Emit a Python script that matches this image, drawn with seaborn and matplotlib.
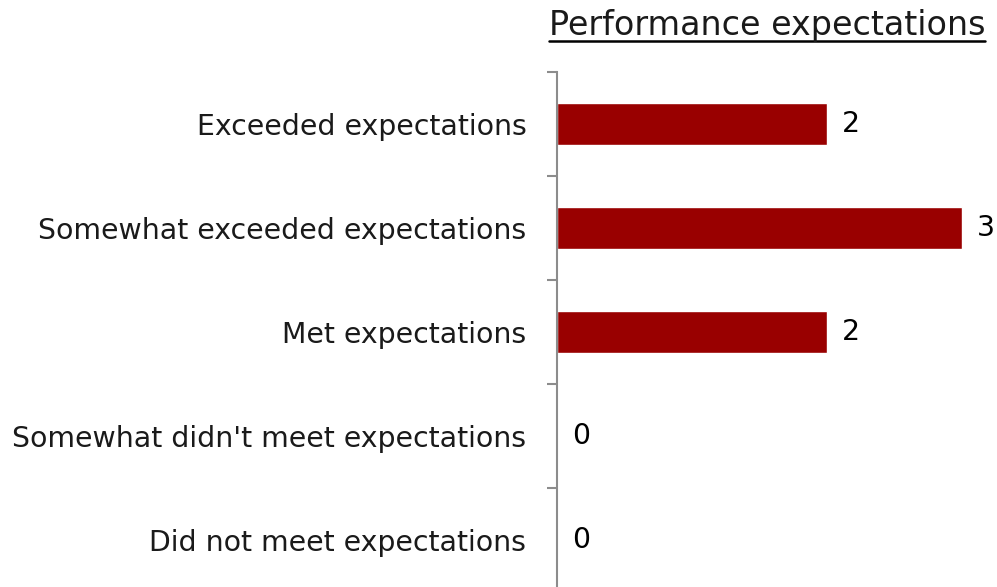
import matplotlib
matplotlib.use("Agg")
import matplotlib.pyplot as plt
import seaborn as sns
from matplotlib.lines import Line2D

# data
categories = ["Exceeded expectations", "Somewhat exceeded expectations",
              "Met expectations", "Somewhat didn't meet expectations",
              "Did not meet expectations"]
counts = [2, 3, 2, 0, 0]
title = "Performance expectations"

sns.set_style("white")
plt.rcParams['font.family'] = ['DejaVu Sans']

fig = plt.figure(figsize=(9.97, 5.87), dpi=100)
ax = fig.add_axes([557 / 997, -5 / 587, 440 / 997, 520 / 587])

sns.barplot(x=counts, y=categories, orient="h", color="#990000",
            width=0.4, saturation=1, ax=ax)

ax.set_xlim(0, 440 / 135)
ax.set_ylim(4.5, -0.5)
ax.set_xlabel("")
ax.set_ylabel("")
ax.set_xticks([])

# category labels at centres, tick marks between categories
ax.set_yticks(range(len(categories)))
ax.set_yticklabels(categories, fontsize=20.4, color="#1a1a1a")
ax.tick_params(axis="y", which="major", length=0, pad=22)
ax.set_yticks([i + 0.5 for i in range(-1, len(categories))], minor=True)
ax.tick_params(axis="y", which="minor", left=True, length=7, width=1.5,
               color="#8c8c8c", direction="out")

for side in ["top", "right", "bottom"]:
    ax.spines[side].set_visible(False)
ax.spines["left"].set_color("#8c8c8c")
ax.spines["left"].set_linewidth(1.5)

ax.bar_label(ax.containers[0], labels=[str(v) for v in counts],
             padding=11, fontsize=20.4, color="black")

# underlined title
t = fig.text(985 / 997, 1 - 35 / 587, title, fontsize=24, ha="right",
             va="baseline", color="#1a1a1a")
fig.canvas.draw()
bb = t.get_window_extent().transformed(fig.transFigure.inverted())
fig.add_artist(Line2D([bb.x0, bb.x1], [1 - 41 / 587] * 2, color="black",
                      linewidth=1.8, transform=fig.transFigure))

fig.savefig("out.png", dpi=100)
